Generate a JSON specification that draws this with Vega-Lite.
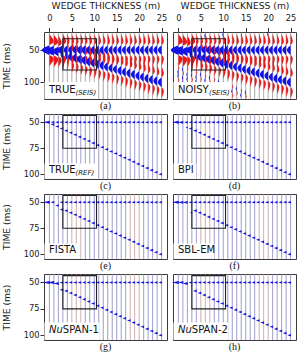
{
"$schema": "https://vega.github.io/schema/vega-lite/v6.json",
"padding": {"left": 1, "top": 1, "right": 2, "bottom": 1},
"background": "white",
"config": {
  "view": {"stroke": "#3a3a3a", "strokeWidth": 1},
  "axis": {"labelFont": "DejaVu Sans", "titleFont": "DejaVu Sans", "labelFontSize": 8.3, "titleFontSize": 9.2, "titleFontWeight": "normal", "labelColor": "#1a1a1a", "titleColor": "#1a1a1a", "tickColor": "#333333", "tickWidth": 1, "domain": false, "grid": false, "labelOverlap": false}
},
"datasets": {
  "traces": [
    {"trace":0,"tone":"b"},{"trace":1,"tone":"b"},{"trace":2,"tone":"b"},{"trace":3,"tone":"b"},{"trace":4,"tone":"b"},{"trace":5,"tone":"r"},{"trace":6,"tone":"r"},{"trace":7,"tone":"r"},{"trace":8,"tone":"b"},{"trace":9,"tone":"b"},{"trace":10,"tone":"b"},{"trace":11,"tone":"b"},{"trace":12,"tone":"b"},{"trace":13,"tone":"b"},{"trace":14,"tone":"b"},{"trace":15,"tone":"b"},{"trace":16,"tone":"b"},{"trace":17,"tone":"b"},{"trace":18,"tone":"r"},{"trace":19,"tone":"r"},{"trace":20,"tone":"r"},{"trace":21,"tone":"b"},{"trace":22,"tone":"b"},{"trace":23,"tone":"b"},{"trace":24,"tone":"b"},{"trace":25,"tone":"b"}
  ],
  "events": [
    {"trace":0,"t":50,"amp":2},{"trace":1,"t":51,"amp":2},{"trace":2,"t":52,"amp":1.5},
    {"trace":3,"t":50,"amp":1.5},{"trace":3,"t":57,"amp":0.6},
    {"trace":4,"t":50,"amp":1},{"trace":4,"t":58,"amp":0.6},
    {"trace":5,"t":50,"amp":1},{"trace":5,"t":60,"amp":1},
    {"trace":6,"t":50,"amp":1},{"trace":6,"t":62,"amp":1},
    {"trace":7,"t":50,"amp":1},{"trace":7,"t":64,"amp":1},
    {"trace":8,"t":50,"amp":1},{"trace":8,"t":66,"amp":1},
    {"trace":9,"t":50,"amp":1},{"trace":9,"t":68,"amp":1},
    {"trace":10,"t":50,"amp":1},{"trace":10,"t":70,"amp":1},
    {"trace":11,"t":50,"amp":1},{"trace":11,"t":72,"amp":1},
    {"trace":12,"t":50,"amp":1},{"trace":12,"t":74,"amp":1},
    {"trace":13,"t":50,"amp":1},{"trace":13,"t":76,"amp":1},
    {"trace":14,"t":50,"amp":1},{"trace":14,"t":78,"amp":1},
    {"trace":15,"t":50,"amp":1},{"trace":15,"t":80,"amp":1},
    {"trace":16,"t":50,"amp":1},{"trace":16,"t":82,"amp":1},
    {"trace":17,"t":50,"amp":1},{"trace":17,"t":84,"amp":1},
    {"trace":18,"t":50,"amp":1},{"trace":18,"t":86,"amp":1},
    {"trace":19,"t":50,"amp":1},{"trace":19,"t":88,"amp":1},
    {"trace":20,"t":50,"amp":1},{"trace":20,"t":90,"amp":1},
    {"trace":21,"t":50,"amp":1},{"trace":21,"t":92,"amp":1},
    {"trace":22,"t":50,"amp":1},{"trace":22,"t":94,"amp":1},
    {"trace":23,"t":50,"amp":1},{"trace":23,"t":96,"amp":1},
    {"trace":24,"t":50,"amp":1},{"trace":24,"t":98,"amp":1},
    {"trace":25,"t":50,"amp":1},{"trace":25,"t":100,"amp":1}
  ],
  "noise": [
    {"trace":0,"t":78,"s":"p"},{"trace":0,"t":84,"s":"n"},{"trace":0,"t":90,"s":"n"},{"trace":0,"t":97,"s":"p"},{"trace":0,"t":104,"s":"n"},{"trace":0,"t":110,"s":"n"},{"trace":0,"t":117,"s":"p"},
    {"trace":1,"t":80,"s":"n"},{"trace":1,"t":86,"s":"p"},{"trace":1,"t":93,"s":"n"},{"trace":1,"t":100,"s":"n"},{"trace":1,"t":106,"s":"p"},{"trace":1,"t":113,"s":"n"},{"trace":1,"t":120,"s":"n"},
    {"trace":2,"t":79,"s":"p"},{"trace":2,"t":88,"s":"n"},{"trace":2,"t":95,"s":"n"},{"trace":2,"t":101,"s":"p"},{"trace":2,"t":108,"s":"n"},{"trace":2,"t":115,"s":"n"},
    {"trace":3,"t":82,"s":"n"},{"trace":3,"t":89,"s":"n"},{"trace":3,"t":96,"s":"p"},{"trace":3,"t":103,"s":"n"},{"trace":3,"t":110,"s":"n"},{"trace":3,"t":118,"s":"p"},
    {"trace":4,"t":85,"s":"p"},{"trace":4,"t":92,"s":"n"},{"trace":4,"t":99,"s":"n"},{"trace":4,"t":105,"s":"n"},{"trace":4,"t":112,"s":"p"},{"trace":4,"t":119,"s":"n"},
    {"trace":5,"t":88,"s":"n"},{"trace":5,"t":95,"s":"p"},{"trace":5,"t":102,"s":"n"},{"trace":5,"t":109,"s":"n"},{"trace":5,"t":116,"s":"p"},
    {"trace":6,"t":90,"s":"p"},{"trace":6,"t":97,"s":"n"},{"trace":6,"t":104,"s":"n"},{"trace":6,"t":111,"s":"p"},{"trace":6,"t":118,"s":"n"},{"trace":6,"t":28,"s":"n"},
    {"trace":7,"t":93,"s":"n"},{"trace":7,"t":100,"s":"p"},{"trace":7,"t":107,"s":"n"},{"trace":7,"t":114,"s":"n"},{"trace":7,"t":121,"s":"p"},
    {"trace":8,"t":96,"s":"p"},{"trace":8,"t":103,"s":"n"},{"trace":8,"t":110,"s":"p"},{"trace":8,"t":117,"s":"n"},
    {"trace":9,"t":99,"s":"n"},{"trace":9,"t":106,"s":"p"},{"trace":9,"t":113,"s":"n"},{"trace":9,"t":120,"s":"p"},
    {"trace":10,"t":102,"s":"p"},{"trace":10,"t":109,"s":"n"},{"trace":10,"t":116,"s":"p"},{"trace":10,"t":26,"s":"n"},
    {"trace":11,"t":104,"s":"n"},{"trace":11,"t":111,"s":"p"},{"trace":11,"t":118,"s":"n"},
    {"trace":12,"t":107,"s":"p"},{"trace":12,"t":114,"s":"n"},{"trace":12,"t":121,"s":"p"},
    {"trace":13,"t":110,"s":"n"},{"trace":13,"t":117,"s":"p"},
    {"trace":14,"t":113,"s":"p"},{"trace":14,"t":120,"s":"n"},{"trace":14,"t":27,"s":"p"},
    {"trace":15,"t":116,"s":"n"},{"trace":15,"t":122,"s":"p"},
    {"trace":20,"t":25,"s":"n"}
  ],
  "far": [
    {"trace":5,"t":50,"a":1},{"trace":5,"t":60,"a":1},{"trace":6,"t":50,"a":1},{"trace":6,"t":62,"a":1},{"trace":7,"t":50,"a":1},{"trace":7,"t":64,"a":1},{"trace":8,"t":50,"a":1},{"trace":8,"t":66,"a":1},{"trace":9,"t":50,"a":1},{"trace":9,"t":68,"a":1},{"trace":10,"t":50,"a":1},{"trace":10,"t":70,"a":1},{"trace":11,"t":50,"a":1},{"trace":11,"t":72,"a":1},{"trace":12,"t":50,"a":1},{"trace":12,"t":74,"a":1},{"trace":13,"t":50,"a":1},{"trace":13,"t":76,"a":1},{"trace":14,"t":50,"a":1},{"trace":14,"t":78,"a":1},{"trace":15,"t":50,"a":1},{"trace":15,"t":80,"a":1},{"trace":16,"t":50,"a":1},{"trace":16,"t":82,"a":1},{"trace":17,"t":50,"a":1},{"trace":17,"t":84,"a":1},{"trace":18,"t":50,"a":1},{"trace":18,"t":86,"a":1},{"trace":19,"t":50,"a":1},{"trace":19,"t":88,"a":1},{"trace":20,"t":50,"a":1},{"trace":20,"t":90,"a":1},{"trace":21,"t":50,"a":1},{"trace":21,"t":92,"a":1},{"trace":22,"t":50,"a":1},{"trace":22,"t":94,"a":1},{"trace":23,"t":50,"a":1},{"trace":23,"t":96,"a":1},{"trace":24,"t":50,"a":1},{"trace":24,"t":98,"a":1},{"trace":25,"t":50,"a":1},{"trace":25,"t":100,"a":1}
  ],
  "near": [
    {"p":"c","trace":0,"t":50,"a":2},{"p":"c","trace":1,"t":50,"a":1},{"p":"c","trace":1,"t":52,"a":1},{"p":"c","trace":2,"t":50,"a":1},{"p":"c","trace":2,"t":54,"a":1},{"p":"c","trace":3,"t":50,"a":1},{"p":"c","trace":3,"t":56,"a":1},{"p":"c","trace":4,"t":50,"a":1},{"p":"c","trace":4,"t":58,"a":1},
    {"p":"d","trace":0,"t":50,"a":2},{"p":"d","trace":1,"t":50,"a":1.5},{"p":"d","trace":2,"t":50,"a":1},{"p":"d","trace":2,"t":55,"a":0.5},{"p":"d","trace":3,"t":50,"a":1},{"p":"d","trace":3,"t":56,"a":1},{"p":"d","trace":4,"t":50,"a":1},{"p":"d","trace":4,"t":58,"a":1},
    {"p":"e","trace":0,"t":50,"a":2},{"p":"e","trace":1,"t":50,"a":1},{"p":"e","trace":2,"t":53,"a":1},{"p":"e","trace":3,"t":50,"a":1},{"p":"e","trace":3,"t":57,"a":1},{"p":"e","trace":4,"t":50,"a":1},{"p":"e","trace":4,"t":58,"a":1},
    {"p":"f","trace":0,"t":50,"a":2},{"p":"f","trace":1,"t":50,"a":1.5},{"p":"f","trace":2,"t":50,"a":1.5},{"p":"f","trace":3,"t":50,"a":1},{"p":"f","trace":3,"t":60,"a":0.5},{"p":"f","trace":4,"t":50,"a":1},{"p":"f","trace":4,"t":58,"a":1},
    {"p":"g","trace":0,"t":50,"a":2},{"p":"g","trace":1,"t":50,"a":2},{"p":"g","trace":2,"t":51,"a":1.5},{"p":"g","trace":3,"t":50,"a":1},{"p":"g","trace":3,"t":57,"a":1},{"p":"g","trace":4,"t":50,"a":1},{"p":"g","trace":4,"t":58,"a":1},
    {"p":"h","trace":0,"t":50,"a":2},{"p":"h","trace":1,"t":50,"a":1.5},{"p":"h","trace":2,"t":51,"a":1.5},{"p":"h","trace":3,"t":50,"a":1},{"p":"h","trace":4,"t":50,"a":1},{"p":"h","trace":4,"t":58,"a":1}
  ]
},
"columns": 2,
"spacing": {"row": 15, "column": 6},
"bounds": "flush",
"align": "each",
"concat": [
 {
  "width": 123, "height": 67,
  "title": {"text": "(a)", "orient": "bottom", "offset": 2, "font": "Liberation Serif", "fontSize": 10, "fontWeight": "normal", "color": "#111", "frame": "group"},
  "resolve": {"scale": {"shape": "independent", "color": "independent"}},
  "layer": [
   {"data": {"name": "traces"}, "mark": {"type": "rule", "color": "#707070", "strokeWidth": 0.6},
    "encoding": {
     "x": {"field": "trace", "type": "quantitative", "scale": {"domain": [-1.2, 26.2], "nice": false, "zero": false}, "axis": {"orient": "top", "values": [0,5,10,15,20,25], "title": "WEDGE THICKNESS (m)", "tickSize": 4.5, "labelPadding": 5, "titlePadding": 3, "labelFlush": false}},
     "y": {"datum": 22, "type": "quantitative", "scale": {"domain": [22, 126], "reverse": true, "nice": false, "zero": false}, "axis": {"values": [50,100], "title": "TIME (ms)", "tickSize": 4, "labelPadding": 1, "titlePadding": 12}},
     "y2": {"datum": 126}}},
   {"data": {"name": "events"}, "mark": {"type": "point", "filled": true, "size": 4, "color": "#eb1a1a", "strokeWidth": 0, "opacity": 1},
    "encoding": {"x": {"field": "trace", "type": "quantitative", "axis": {"orient": "top", "values": [0,5,10,15,20,25], "title": "WEDGE THICKNESS (m)", "tickSize": 4.5, "labelPadding": 5, "titlePadding": 3, "labelFlush": false}}, "y": {"field": "t", "type": "quantitative", "axis": {"values": [50,100], "title": "TIME (ms)", "tickSize": 4, "labelPadding": 1, "titlePadding": 12}},
     "shape": {"field": "amp", "type": "ordinal", "legend": null, "scale": {"domain": [2,1.5,1,0.6], "range": [
       "M0,4.9C1.8,5.8 4.4,7 4.4,8.7C4.4,10.8 1.8,13.5 0,16ZM0,-4.9C1.8,-5.8 4.4,-7 4.4,-8.7C4.4,-10.8 1.8,-13.5 0,-16Z",
       "M0,4.9C1.3,5.8 3.3,7 3.3,8.7C3.3,10.8 1.3,13.5 0,16ZM0,-4.9C1.3,-5.8 3.3,-7 3.3,-8.7C3.3,-10.8 1.3,-13.5 0,-16Z",
       "M0,4.9C0.9,5.8 2.2,7 2.2,8.7C2.2,10.8 0.9,13.5 0,16ZM0,-4.9C0.9,-5.8 2.2,-7 2.2,-8.7C2.2,-10.8 0.9,-13.5 0,-16Z",
       "M0,4.9C0.5,5.8 1.3,7 1.3,8.7C1.3,10.8 0.5,13.5 0,16ZM0,-4.9C0.5,-5.8 1.3,-7 1.3,-8.7C1.3,-10.8 0.5,-13.5 0,-16Z"]}}}},
   {"data": {"name": "events"}, "mark": {"type": "point", "filled": true, "size": 4, "color": "#1414e6", "strokeWidth": 0, "opacity": 1},
    "encoding": {"x": {"field": "trace", "type": "quantitative", "axis": {"orient": "top", "values": [0,5,10,15,20,25], "title": "WEDGE THICKNESS (m)", "tickSize": 4.5, "labelPadding": 5, "titlePadding": 3, "labelFlush": false}}, "y": {"field": "t", "type": "quantitative", "axis": {"values": [50,100], "title": "TIME (ms)", "tickSize": 4, "labelPadding": 1, "titlePadding": 12}},
     "shape": {"field": "amp", "type": "ordinal", "legend": null, "scale": {"domain": [2,1.5,1,0.6], "range": [
       "M0,-4.9C-2.3,-3.6 -7.6,-2.2 -7.6,0C-7.6,2.2 -2.3,3.6 0,4.9Z",
       "M0,-4.9C-1.7,-3.6 -5.7,-2.2 -5.7,0C-5.7,2.2 -1.7,3.6 0,4.9Z",
       "M0,-4.9C-1.1,-3.6 -3.8,-2.2 -3.8,0C-3.8,2.2 -1.1,3.6 0,4.9Z",
       "M0,-4.9C-0.7,-3.6 -2.3,-2.2 -2.3,0C-2.3,2.2 -0.7,3.6 0,4.9Z"]}}}},
   {"data": {"values": [{}]}, "mark": {"type": "rect", "filled": false, "color": "#222", "strokeWidth": 1.1},
    "encoding": {"x": {"datum": 3, "type": "quantitative", "axis": {"orient": "top", "values": [0,5,10,15,20,25], "title": "WEDGE THICKNESS (m)", "tickSize": 4.5, "labelPadding": 5, "titlePadding": 3, "labelFlush": false}}, "x2": {"datum": 10.5}, "y": {"datum": 32.5, "type": "quantitative", "axis": {"values": [50,100], "title": "TIME (ms)", "tickSize": 4, "labelPadding": 1, "titlePadding": 12}}, "y2": {"datum": 81}}},
   {"data": {"values": [{}]}, "mark": {"type": "rect", "color": "white"},
    "encoding": {"x": {"datum": -1.1, "type": "quantitative", "axis": {"orient": "top", "values": [0,5,10,15,20,25], "title": "WEDGE THICKNESS (m)", "tickSize": 4.5, "labelPadding": 5, "titlePadding": 3, "labelFlush": false}}, "x2": {"datum": 10.7}, "y": {"datum": 99.6, "type": "quantitative", "axis": {"values": [50,100], "title": "TIME (ms)", "tickSize": 4, "labelPadding": 1, "titlePadding": 12}}, "y2": {"datum": 125.6}}},
   {"data": {"values": [{}]}, "mark": {"type": "text", "text": "TRUE", "align": "left", "baseline": "alphabetic", "font": "DejaVu Sans", "fontSize": 10, "color": "#111"},
    "encoding": {"x": {"datum": -0.1, "type": "quantitative", "axis": {"orient": "top", "values": [0,5,10,15,20,25], "title": "WEDGE THICKNESS (m)", "tickSize": 4.5, "labelPadding": 5, "titlePadding": 3, "labelFlush": false}}, "y": {"datum": 116.7, "type": "quantitative", "axis": {"values": [50,100], "title": "TIME (ms)", "tickSize": 4, "labelPadding": 1, "titlePadding": 12}}}},
   {"data": {"values": [{}]}, "mark": {"type": "text", "text": "(SEIS)", "align": "left", "baseline": "alphabetic", "font": "DejaVu Sans", "fontSize": 7, "fontStyle": "italic", "color": "#111"},
    "encoding": {"x": {"datum": 5.8, "type": "quantitative", "axis": {"orient": "top", "values": [0,5,10,15,20,25], "title": "WEDGE THICKNESS (m)", "tickSize": 4.5, "labelPadding": 5, "titlePadding": 3, "labelFlush": false}}, "y": {"datum": 119.5, "type": "quantitative", "axis": {"values": [50,100], "title": "TIME (ms)", "tickSize": 4, "labelPadding": 1, "titlePadding": 12}}}}
  ]
 },
 {
  "width": 123, "height": 67,
  "title": {"text": "(b)", "orient": "bottom", "offset": 2, "font": "Liberation Serif", "fontSize": 10, "fontWeight": "normal", "color": "#111", "frame": "group"},
  "resolve": {"scale": {"shape": "independent", "color": "independent"}},
  "layer": [
   {"data": {"name": "traces"}, "mark": {"type": "rule", "color": "#707070", "strokeWidth": 0.6},
    "encoding": {
     "x": {"field": "trace", "type": "quantitative", "scale": {"domain": [-1.2, 26.2], "nice": false, "zero": false}, "axis": {"orient": "top", "values": [0,5,10,15,20,25], "title": "WEDGE THICKNESS (m)", "tickSize": 4.5, "labelPadding": 5, "titlePadding": 3, "labelFlush": false}},
     "y": {"datum": 22, "type": "quantitative", "scale": {"domain": [22, 126], "reverse": true, "nice": false, "zero": false}, "axis": null},
     "y2": {"datum": 126}}},
   {"data": {"name": "noise"}, "mark": {"type": "point", "filled": true, "size": 4, "strokeWidth": 0, "opacity": 1},
    "encoding": {"x": {"field": "trace", "type": "quantitative", "axis": {"orient": "top", "values": [0,5,10,15,20,25], "title": "WEDGE THICKNESS (m)", "tickSize": 4.5, "labelPadding": 5, "titlePadding": 3, "labelFlush": false}}, "y": {"field": "t", "type": "quantitative", "axis": null},
     "shape": {"field": "s", "type": "nominal", "legend": null, "scale": {"domain": ["n","p"], "range": ["M0,-3C-0.4,-1.5 -1,-0.6 -1,0C-1,0.6 -0.4,1.5 0,3Z", "M0,-3C0.4,-1.5 1,-0.6 1,0C1,0.6 0.4,1.5 0,3Z"]}},
     "color": {"field": "s", "type": "nominal", "legend": null, "scale": {"domain": ["n","p"], "range": ["#1414e6","#eb1a1a"]}}}},
   {"data": {"name": "events"}, "mark": {"type": "point", "filled": true, "size": 4, "color": "#eb1a1a", "strokeWidth": 0, "opacity": 1},
    "encoding": {"x": {"field": "trace", "type": "quantitative", "axis": {"orient": "top", "values": [0,5,10,15,20,25], "title": "WEDGE THICKNESS (m)", "tickSize": 4.5, "labelPadding": 5, "titlePadding": 3, "labelFlush": false}}, "y": {"field": "t", "type": "quantitative", "axis": null},
     "shape": {"field": "amp", "type": "ordinal", "legend": null, "scale": {"domain": [2,1.5,1,0.6], "range": [
       "M0,4.9C1.8,5.8 4.4,7 4.4,8.7C4.4,10.8 1.8,13.5 0,16ZM0,-4.9C1.8,-5.8 4.4,-7 4.4,-8.7C4.4,-10.8 1.8,-13.5 0,-16Z",
       "M0,4.9C1.3,5.8 3.3,7 3.3,8.7C3.3,10.8 1.3,13.5 0,16ZM0,-4.9C1.3,-5.8 3.3,-7 3.3,-8.7C3.3,-10.8 1.3,-13.5 0,-16Z",
       "M0,4.9C0.9,5.8 2.2,7 2.2,8.7C2.2,10.8 0.9,13.5 0,16ZM0,-4.9C0.9,-5.8 2.2,-7 2.2,-8.7C2.2,-10.8 0.9,-13.5 0,-16Z",
       "M0,4.9C0.5,5.8 1.3,7 1.3,8.7C1.3,10.8 0.5,13.5 0,16ZM0,-4.9C0.5,-5.8 1.3,-7 1.3,-8.7C1.3,-10.8 0.5,-13.5 0,-16Z"]}}}},
   {"data": {"name": "events"}, "mark": {"type": "point", "filled": true, "size": 4, "color": "#1414e6", "strokeWidth": 0, "opacity": 1},
    "encoding": {"x": {"field": "trace", "type": "quantitative", "axis": {"orient": "top", "values": [0,5,10,15,20,25], "title": "WEDGE THICKNESS (m)", "tickSize": 4.5, "labelPadding": 5, "titlePadding": 3, "labelFlush": false}}, "y": {"field": "t", "type": "quantitative", "axis": null},
     "shape": {"field": "amp", "type": "ordinal", "legend": null, "scale": {"domain": [2,1.5,1,0.6], "range": [
       "M0,-4.9C-2.3,-3.6 -7.6,-2.2 -7.6,0C-7.6,2.2 -2.3,3.6 0,4.9Z",
       "M0,-4.9C-1.7,-3.6 -5.7,-2.2 -5.7,0C-5.7,2.2 -1.7,3.6 0,4.9Z",
       "M0,-4.9C-1.1,-3.6 -3.8,-2.2 -3.8,0C-3.8,2.2 -1.1,3.6 0,4.9Z",
       "M0,-4.9C-0.7,-3.6 -2.3,-2.2 -2.3,0C-2.3,2.2 -0.7,3.6 0,4.9Z"]}}}},
   {"data": {"values": [{}]}, "mark": {"type": "rect", "filled": false, "color": "#222", "strokeWidth": 1.1},
    "encoding": {"x": {"datum": 3, "type": "quantitative", "axis": {"orient": "top", "values": [0,5,10,15,20,25], "title": "WEDGE THICKNESS (m)", "tickSize": 4.5, "labelPadding": 5, "titlePadding": 3, "labelFlush": false}}, "x2": {"datum": 10.5}, "y": {"datum": 32.5, "type": "quantitative", "axis": null}, "y2": {"datum": 81}}},
   {"data": {"values": [{}]}, "mark": {"type": "rect", "color": "white"},
    "encoding": {"x": {"datum": -1.1, "type": "quantitative", "axis": {"orient": "top", "values": [0,5,10,15,20,25], "title": "WEDGE THICKNESS (m)", "tickSize": 4.5, "labelPadding": 5, "titlePadding": 3, "labelFlush": false}}, "x2": {"datum": 11.3}, "y": {"datum": 99.6, "type": "quantitative", "axis": null}, "y2": {"datum": 125.6}}},
   {"data": {"values": [{}]}, "mark": {"type": "text", "text": "NOISY", "align": "left", "baseline": "alphabetic", "font": "DejaVu Sans", "fontSize": 10, "color": "#111"},
    "encoding": {"x": {"datum": -0.1, "type": "quantitative", "axis": {"orient": "top", "values": [0,5,10,15,20,25], "title": "WEDGE THICKNESS (m)", "tickSize": 4.5, "labelPadding": 5, "titlePadding": 3, "labelFlush": false}}, "y": {"datum": 116.7, "type": "quantitative", "axis": null}}},
   {"data": {"values": [{}]}, "mark": {"type": "text", "text": "(SEIS)", "align": "left", "baseline": "alphabetic", "font": "DejaVu Sans", "fontSize": 7, "fontStyle": "italic", "color": "#111"},
    "encoding": {"x": {"datum": 6.8, "type": "quantitative", "axis": {"orient": "top", "values": [0,5,10,15,20,25], "title": "WEDGE THICKNESS (m)", "tickSize": 4.5, "labelPadding": 5, "titlePadding": 3, "labelFlush": false}}, "y": {"datum": 119.5, "type": "quantitative", "axis": null}}}
  ]
 },
 {
  "width": 123, "height": 65,
  "title": {"text": "(c)", "orient": "bottom", "offset": 2, "font": "Liberation Serif", "fontSize": 10, "fontWeight": "normal", "color": "#111", "frame": "group"},
  "layer": [
   {"data": {"name": "traces"}, "mark": {"type": "rule", "color": "#8585c2", "strokeWidth": 0.8},
    "encoding": {
     "x": {"field": "trace", "type": "quantitative", "scale": {"domain": [-1.2, 26.2], "nice": false, "zero": false}, "axis": null},
     "y": {"datum": 42, "type": "quantitative", "scale": {"domain": [42, 104.5], "reverse": true, "nice": false, "zero": false}, "axis": {"values": [50,75,100], "title": "TIME (ms)", "tickSize": 4, "labelPadding": 1, "titlePadding": 12}},
     "y2": {"datum": 104.5}}},
   {"data": {"name": "far"}, "mark": {"type": "point", "filled": true, "size": 4, "color": "#1414e0", "strokeWidth": 0, "opacity": 1},
    "encoding": {"x": {"field": "trace", "type": "quantitative", "axis": null}, "y": {"field": "t", "type": "quantitative", "axis": {"values": [50,75,100], "title": "TIME (ms)", "tickSize": 4, "labelPadding": 1, "titlePadding": 12}},
     "shape": {"field": "a", "type": "ordinal", "legend": null, "scale": {"domain": [2,1.5,1,0.5], "range": ["M0.4,-1.5L-6.5,0L0.4,1.5Z","M0.4,-1.4L-4.8,0L0.4,1.4Z","M0.4,-1.3L-3.2,0L0.4,1.3Z","M0.4,-1.1L-1.8,0L0.4,1.1Z"]}}}},
   {"data": {"name": "near"}, "transform": [{"filter": "datum.p === 'c'"}], "mark": {"type": "point", "filled": true, "size": 4, "color": "#1414e0", "strokeWidth": 0, "opacity": 1},
    "encoding": {"x": {"field": "trace", "type": "quantitative", "axis": null}, "y": {"field": "t", "type": "quantitative", "axis": {"values": [50,75,100], "title": "TIME (ms)", "tickSize": 4, "labelPadding": 1, "titlePadding": 12}},
     "shape": {"field": "a", "type": "ordinal", "legend": null, "scale": {"domain": [2,1.5,1,0.5], "range": ["M0.4,-1.5L-6.5,0L0.4,1.5Z","M0.4,-1.4L-4.8,0L0.4,1.4Z","M0.4,-1.3L-3.2,0L0.4,1.3Z","M0.4,-1.1L-1.8,0L0.4,1.1Z"]}}}},
   {"data": {"values": [{}]}, "mark": {"type": "rect", "filled": false, "color": "#222", "strokeWidth": 1.1},
    "encoding": {"x": {"datum": 3, "type": "quantitative", "axis": null}, "x2": {"datum": 10.5}, "y": {"datum": 43.5, "type": "quantitative", "axis": {"values": [50,75,100], "title": "TIME (ms)", "tickSize": 4, "labelPadding": 1, "titlePadding": 12}}, "y2": {"datum": 75}}},
   {"data": {"values": [{}]}, "mark": {"type": "rect", "color": "white"},
    "encoding": {"x": {"datum": -1.1, "type": "quantitative", "axis": null}, "x2": {"datum": 10.7}, "y": {"datum": 89.6, "type": "quantitative", "axis": {"values": [50,75,100], "title": "TIME (ms)", "tickSize": 4, "labelPadding": 1, "titlePadding": 12}}, "y2": {"datum": 104.3}}},
   {"data": {"values": [{}]}, "mark": {"type": "text", "text": "TRUE", "align": "left", "baseline": "alphabetic", "font": "DejaVu Sans", "fontSize": 10, "color": "#111"},
    "encoding": {"x": {"datum": -0.1, "type": "quantitative", "axis": null}, "y": {"datum": 99.2, "type": "quantitative", "axis": {"values": [50,75,100], "title": "TIME (ms)", "tickSize": 4, "labelPadding": 1, "titlePadding": 12}}}},
   {"data": {"values": [{}]}, "mark": {"type": "text", "text": "(REF)", "align": "left", "baseline": "alphabetic", "font": "DejaVu Sans", "fontSize": 7, "fontStyle": "italic", "color": "#111"},
    "encoding": {"x": {"datum": 5.8, "type": "quantitative", "axis": null}, "y": {"datum": 100.8, "type": "quantitative", "axis": {"values": [50,75,100], "title": "TIME (ms)", "tickSize": 4, "labelPadding": 1, "titlePadding": 12}}}}
  ]
 },
 {
  "width": 123, "height": 65,
  "title": {"text": "(d)", "orient": "bottom", "offset": 2, "font": "Liberation Serif", "fontSize": 10, "fontWeight": "normal", "color": "#111", "frame": "group"},
  "resolve": {"scale": {"color": "independent"}},
  "layer": [
   {"data": {"name": "traces"}, "mark": {"type": "rule", "strokeWidth": 0.8},
    "encoding": {
     "x": {"field": "trace", "type": "quantitative", "scale": {"domain": [-1.2, 26.2], "nice": false, "zero": false}, "axis": null},
     "y": {"datum": 42, "type": "quantitative", "scale": {"domain": [42, 104.5], "reverse": true, "nice": false, "zero": false}, "axis": null},
     "y2": {"datum": 104.5},
     "color": {"field": "tone", "type": "nominal", "legend": null, "scale": {"domain": ["b","r"], "range": ["#8585c2","#c29a9a"]}}}},
   {"data": {"name": "far"}, "mark": {"type": "point", "filled": true, "size": 4, "color": "#1414e0", "strokeWidth": 0, "opacity": 1},
    "encoding": {"x": {"field": "trace", "type": "quantitative", "axis": null}, "y": {"field": "t", "type": "quantitative", "axis": null},
     "shape": {"field": "a", "type": "ordinal", "legend": null, "scale": {"domain": [2,1.5,1,0.5], "range": ["M0.4,-1.5L-6.5,0L0.4,1.5Z","M0.4,-1.4L-4.8,0L0.4,1.4Z","M0.4,-1.3L-3.2,0L0.4,1.3Z","M0.4,-1.1L-1.8,0L0.4,1.1Z"]}}}},
   {"data": {"name": "near"}, "transform": [{"filter": "datum.p === 'd'"}], "mark": {"type": "point", "filled": true, "size": 4, "color": "#1414e0", "strokeWidth": 0, "opacity": 1},
    "encoding": {"x": {"field": "trace", "type": "quantitative", "axis": null}, "y": {"field": "t", "type": "quantitative", "axis": null},
     "shape": {"field": "a", "type": "ordinal", "legend": null, "scale": {"domain": [2,1.5,1,0.5], "range": ["M0.4,-1.5L-6.5,0L0.4,1.5Z","M0.4,-1.4L-4.8,0L0.4,1.4Z","M0.4,-1.3L-3.2,0L0.4,1.3Z","M0.4,-1.1L-1.8,0L0.4,1.1Z"]}}}},
   {"data": {"values": [{}]}, "mark": {"type": "rect", "filled": false, "color": "#222", "strokeWidth": 1.1},
    "encoding": {"x": {"datum": 3, "type": "quantitative", "axis": null}, "x2": {"datum": 10.5}, "y": {"datum": 43.5, "type": "quantitative", "axis": null}, "y2": {"datum": 75}}},
   {"data": {"values": [{}]}, "mark": {"type": "rect", "color": "white"},
    "encoding": {"x": {"datum": -1.1, "type": "quantitative", "axis": null}, "x2": {"datum": 4}, "y": {"datum": 89.6, "type": "quantitative", "axis": null}, "y2": {"datum": 104.3}}},
   {"data": {"values": [{}]}, "mark": {"type": "text", "text": "BPI", "align": "left", "baseline": "alphabetic", "font": "DejaVu Sans", "fontSize": 10, "color": "#111"},
    "encoding": {"x": {"datum": -0.1, "type": "quantitative", "axis": null}, "y": {"datum": 99.2, "type": "quantitative", "axis": null}}}
  ]
 },
 {
  "width": 123, "height": 65,
  "title": {"text": "(e)", "orient": "bottom", "offset": 2, "font": "Liberation Serif", "fontSize": 10, "fontWeight": "normal", "color": "#111", "frame": "group"},
  "resolve": {"scale": {"color": "independent"}},
  "layer": [
   {"data": {"name": "traces"}, "mark": {"type": "rule", "strokeWidth": 0.8},
    "encoding": {
     "x": {"field": "trace", "type": "quantitative", "scale": {"domain": [-1.2, 26.2], "nice": false, "zero": false}, "axis": null},
     "y": {"datum": 42, "type": "quantitative", "scale": {"domain": [42, 104.5], "reverse": true, "nice": false, "zero": false}, "axis": {"values": [50,75,100], "title": "TIME (ms)", "tickSize": 4, "labelPadding": 1, "titlePadding": 12}},
     "y2": {"datum": 104.5},
     "color": {"field": "tone", "type": "nominal", "legend": null, "scale": {"domain": ["b","r"], "range": ["#8585c2","#c29a9a"]}}}},
   {"data": {"name": "far"}, "mark": {"type": "point", "filled": true, "size": 4, "color": "#1414e0", "strokeWidth": 0, "opacity": 1},
    "encoding": {"x": {"field": "trace", "type": "quantitative", "axis": null}, "y": {"field": "t", "type": "quantitative", "axis": {"values": [50,75,100], "title": "TIME (ms)", "tickSize": 4, "labelPadding": 1, "titlePadding": 12}},
     "shape": {"field": "a", "type": "ordinal", "legend": null, "scale": {"domain": [2,1.5,1,0.5], "range": ["M0.4,-1.5L-6.5,0L0.4,1.5Z","M0.4,-1.4L-4.8,0L0.4,1.4Z","M0.4,-1.3L-3.2,0L0.4,1.3Z","M0.4,-1.1L-1.8,0L0.4,1.1Z"]}}}},
   {"data": {"name": "near"}, "transform": [{"filter": "datum.p === 'e'"}], "mark": {"type": "point", "filled": true, "size": 4, "color": "#1414e0", "strokeWidth": 0, "opacity": 1},
    "encoding": {"x": {"field": "trace", "type": "quantitative", "axis": null}, "y": {"field": "t", "type": "quantitative", "axis": {"values": [50,75,100], "title": "TIME (ms)", "tickSize": 4, "labelPadding": 1, "titlePadding": 12}},
     "shape": {"field": "a", "type": "ordinal", "legend": null, "scale": {"domain": [2,1.5,1,0.5], "range": ["M0.4,-1.5L-6.5,0L0.4,1.5Z","M0.4,-1.4L-4.8,0L0.4,1.4Z","M0.4,-1.3L-3.2,0L0.4,1.3Z","M0.4,-1.1L-1.8,0L0.4,1.1Z"]}}}},
   {"data": {"values": [{}]}, "mark": {"type": "rect", "filled": false, "color": "#222", "strokeWidth": 1.1},
    "encoding": {"x": {"datum": 3, "type": "quantitative", "axis": null}, "x2": {"datum": 10.5}, "y": {"datum": 43.5, "type": "quantitative", "axis": {"values": [50,75,100], "title": "TIME (ms)", "tickSize": 4, "labelPadding": 1, "titlePadding": 12}}, "y2": {"datum": 75}}},
   {"data": {"values": [{}]}, "mark": {"type": "rect", "color": "white"},
    "encoding": {"x": {"datum": -1.1, "type": "quantitative", "axis": null}, "x2": {"datum": 6.4}, "y": {"datum": 89.6, "type": "quantitative", "axis": {"values": [50,75,100], "title": "TIME (ms)", "tickSize": 4, "labelPadding": 1, "titlePadding": 12}}, "y2": {"datum": 104.3}}},
   {"data": {"values": [{}]}, "mark": {"type": "text", "text": "FISTA", "align": "left", "baseline": "alphabetic", "font": "DejaVu Sans", "fontSize": 10, "color": "#111"},
    "encoding": {"x": {"datum": -0.1, "type": "quantitative", "axis": null}, "y": {"datum": 99.2, "type": "quantitative", "axis": {"values": [50,75,100], "title": "TIME (ms)", "tickSize": 4, "labelPadding": 1, "titlePadding": 12}}}}
  ]
 },
 {
  "width": 123, "height": 65,
  "title": {"text": "(f)", "orient": "bottom", "offset": 2, "font": "Liberation Serif", "fontSize": 10, "fontWeight": "normal", "color": "#111", "frame": "group"},
  "resolve": {"scale": {"color": "independent"}},
  "layer": [
   {"data": {"name": "traces"}, "mark": {"type": "rule", "strokeWidth": 0.8},
    "encoding": {
     "x": {"field": "trace", "type": "quantitative", "scale": {"domain": [-1.2, 26.2], "nice": false, "zero": false}, "axis": null},
     "y": {"datum": 42, "type": "quantitative", "scale": {"domain": [42, 104.5], "reverse": true, "nice": false, "zero": false}, "axis": null},
     "y2": {"datum": 104.5},
     "color": {"field": "tone", "type": "nominal", "legend": null, "scale": {"domain": ["b","r"], "range": ["#8585c2","#c29a9a"]}}}},
   {"data": {"name": "far"}, "mark": {"type": "point", "filled": true, "size": 4, "color": "#1414e0", "strokeWidth": 0, "opacity": 1},
    "encoding": {"x": {"field": "trace", "type": "quantitative", "axis": null}, "y": {"field": "t", "type": "quantitative", "axis": null},
     "shape": {"field": "a", "type": "ordinal", "legend": null, "scale": {"domain": [2,1.5,1,0.5], "range": ["M0.4,-1.5L-6.5,0L0.4,1.5Z","M0.4,-1.4L-4.8,0L0.4,1.4Z","M0.4,-1.3L-3.2,0L0.4,1.3Z","M0.4,-1.1L-1.8,0L0.4,1.1Z"]}}}},
   {"data": {"name": "near"}, "transform": [{"filter": "datum.p === 'f'"}], "mark": {"type": "point", "filled": true, "size": 4, "color": "#1414e0", "strokeWidth": 0, "opacity": 1},
    "encoding": {"x": {"field": "trace", "type": "quantitative", "axis": null}, "y": {"field": "t", "type": "quantitative", "axis": null},
     "shape": {"field": "a", "type": "ordinal", "legend": null, "scale": {"domain": [2,1.5,1,0.5], "range": ["M0.4,-1.5L-6.5,0L0.4,1.5Z","M0.4,-1.4L-4.8,0L0.4,1.4Z","M0.4,-1.3L-3.2,0L0.4,1.3Z","M0.4,-1.1L-1.8,0L0.4,1.1Z"]}}}},
   {"data": {"values": [{}]}, "mark": {"type": "rect", "filled": false, "color": "#222", "strokeWidth": 1.1},
    "encoding": {"x": {"datum": 3, "type": "quantitative", "axis": null}, "x2": {"datum": 10.5}, "y": {"datum": 43.5, "type": "quantitative", "axis": null}, "y2": {"datum": 75}}},
   {"data": {"values": [{}]}, "mark": {"type": "rect", "color": "white"},
    "encoding": {"x": {"datum": -1.1, "type": "quantitative", "axis": null}, "x2": {"datum": 8}, "y": {"datum": 89.6, "type": "quantitative", "axis": null}, "y2": {"datum": 104.3}}},
   {"data": {"values": [{}]}, "mark": {"type": "text", "text": "SBL-EM", "align": "left", "baseline": "alphabetic", "font": "DejaVu Sans", "fontSize": 10, "color": "#111"},
    "encoding": {"x": {"datum": -0.1, "type": "quantitative", "axis": null}, "y": {"datum": 99.2, "type": "quantitative", "axis": null}}}
  ]
 },
 {
  "width": 123, "height": 66,
  "title": {"text": "(g)", "orient": "bottom", "offset": 2, "font": "Liberation Serif", "fontSize": 10, "fontWeight": "normal", "color": "#111", "frame": "group"},
  "resolve": {"scale": {"color": "independent"}},
  "layer": [
   {"data": {"name": "traces"}, "mark": {"type": "rule", "strokeWidth": 0.8},
    "encoding": {
     "x": {"field": "trace", "type": "quantitative", "scale": {"domain": [-1.2, 26.2], "nice": false, "zero": false}, "axis": null},
     "y": {"datum": 42, "type": "quantitative", "scale": {"domain": [42, 104.5], "reverse": true, "nice": false, "zero": false}, "axis": {"values": [50,75,100], "title": "TIME (ms)", "tickSize": 4, "labelPadding": 1, "titlePadding": 12}},
     "y2": {"datum": 104.5},
     "color": {"field": "tone", "type": "nominal", "legend": null, "scale": {"domain": ["b","r"], "range": ["#8585c2","#c29a9a"]}}}},
   {"data": {"name": "far"}, "mark": {"type": "point", "filled": true, "size": 4, "color": "#1414e0", "strokeWidth": 0, "opacity": 1},
    "encoding": {"x": {"field": "trace", "type": "quantitative", "axis": null}, "y": {"field": "t", "type": "quantitative", "axis": {"values": [50,75,100], "title": "TIME (ms)", "tickSize": 4, "labelPadding": 1, "titlePadding": 12}},
     "shape": {"field": "a", "type": "ordinal", "legend": null, "scale": {"domain": [2,1.5,1,0.5], "range": ["M0.4,-1.5L-6.5,0L0.4,1.5Z","M0.4,-1.4L-4.8,0L0.4,1.4Z","M0.4,-1.3L-3.2,0L0.4,1.3Z","M0.4,-1.1L-1.8,0L0.4,1.1Z"]}}}},
   {"data": {"name": "near"}, "transform": [{"filter": "datum.p === 'g'"}], "mark": {"type": "point", "filled": true, "size": 4, "color": "#1414e0", "strokeWidth": 0, "opacity": 1},
    "encoding": {"x": {"field": "trace", "type": "quantitative", "axis": null}, "y": {"field": "t", "type": "quantitative", "axis": {"values": [50,75,100], "title": "TIME (ms)", "tickSize": 4, "labelPadding": 1, "titlePadding": 12}},
     "shape": {"field": "a", "type": "ordinal", "legend": null, "scale": {"domain": [2,1.5,1,0.5], "range": ["M0.4,-1.5L-6.5,0L0.4,1.5Z","M0.4,-1.4L-4.8,0L0.4,1.4Z","M0.4,-1.3L-3.2,0L0.4,1.3Z","M0.4,-1.1L-1.8,0L0.4,1.1Z"]}}}},
   {"data": {"values": [{}]}, "mark": {"type": "rect", "filled": false, "color": "#222", "strokeWidth": 1.1},
    "encoding": {"x": {"datum": 3, "type": "quantitative", "axis": null}, "x2": {"datum": 10.5}, "y": {"datum": 43.5, "type": "quantitative", "axis": {"values": [50,75,100], "title": "TIME (ms)", "tickSize": 4, "labelPadding": 1, "titlePadding": 12}}, "y2": {"datum": 75}}},
   {"data": {"values": [{}]}, "mark": {"type": "rect", "color": "white"},
    "encoding": {"x": {"datum": -1.1, "type": "quantitative", "axis": null}, "x2": {"datum": 11.1}, "y": {"datum": 88, "type": "quantitative", "axis": {"values": [50,75,100], "title": "TIME (ms)", "tickSize": 4, "labelPadding": 1, "titlePadding": 12}}, "y2": {"datum": 104.3}}},
   {"data": {"values": [{}]}, "mark": {"type": "text", "text": "Nu", "align": "left", "baseline": "alphabetic", "font": "DejaVu Sans", "fontSize": 10, "fontStyle": "italic", "color": "#111"},
    "encoding": {"x": {"datum": -0.1, "type": "quantitative", "axis": null}, "y": {"datum": 97.5, "type": "quantitative", "axis": {"values": [50,75,100], "title": "TIME (ms)", "tickSize": 4, "labelPadding": 1, "titlePadding": 12}}}},
   {"data": {"values": [{}]}, "mark": {"type": "text", "text": "SPAN-1", "align": "left", "baseline": "alphabetic", "font": "DejaVu Sans", "fontSize": 10, "color": "#111"},
    "encoding": {"x": {"datum": 3.0, "type": "quantitative", "axis": null}, "y": {"datum": 97.5, "type": "quantitative", "axis": {"values": [50,75,100], "title": "TIME (ms)", "tickSize": 4, "labelPadding": 1, "titlePadding": 12}}}}
  ]
 },
 {
  "width": 123, "height": 66,
  "title": {"text": "(h)", "orient": "bottom", "offset": 2, "font": "Liberation Serif", "fontSize": 10, "fontWeight": "normal", "color": "#111", "frame": "group"},
  "resolve": {"scale": {"color": "independent"}},
  "layer": [
   {"data": {"name": "traces"}, "mark": {"type": "rule", "strokeWidth": 0.8},
    "encoding": {
     "x": {"field": "trace", "type": "quantitative", "scale": {"domain": [-1.2, 26.2], "nice": false, "zero": false}, "axis": null},
     "y": {"datum": 42, "type": "quantitative", "scale": {"domain": [42, 104.5], "reverse": true, "nice": false, "zero": false}, "axis": null},
     "y2": {"datum": 104.5},
     "color": {"field": "tone", "type": "nominal", "legend": null, "scale": {"domain": ["b","r"], "range": ["#8585c2","#c29a9a"]}}}},
   {"data": {"name": "far"}, "mark": {"type": "point", "filled": true, "size": 4, "color": "#1414e0", "strokeWidth": 0, "opacity": 1},
    "encoding": {"x": {"field": "trace", "type": "quantitative", "axis": null}, "y": {"field": "t", "type": "quantitative", "axis": null},
     "shape": {"field": "a", "type": "ordinal", "legend": null, "scale": {"domain": [2,1.5,1,0.5], "range": ["M0.4,-1.5L-6.5,0L0.4,1.5Z","M0.4,-1.4L-4.8,0L0.4,1.4Z","M0.4,-1.3L-3.2,0L0.4,1.3Z","M0.4,-1.1L-1.8,0L0.4,1.1Z"]}}}},
   {"data": {"name": "near"}, "transform": [{"filter": "datum.p === 'h'"}], "mark": {"type": "point", "filled": true, "size": 4, "color": "#1414e0", "strokeWidth": 0, "opacity": 1},
    "encoding": {"x": {"field": "trace", "type": "quantitative", "axis": null}, "y": {"field": "t", "type": "quantitative", "axis": null},
     "shape": {"field": "a", "type": "ordinal", "legend": null, "scale": {"domain": [2,1.5,1,0.5], "range": ["M0.4,-1.5L-6.5,0L0.4,1.5Z","M0.4,-1.4L-4.8,0L0.4,1.4Z","M0.4,-1.3L-3.2,0L0.4,1.3Z","M0.4,-1.1L-1.8,0L0.4,1.1Z"]}}}},
   {"data": {"values": [{}]}, "mark": {"type": "rect", "filled": false, "color": "#222", "strokeWidth": 1.1},
    "encoding": {"x": {"datum": 3, "type": "quantitative", "axis": null}, "x2": {"datum": 10.5}, "y": {"datum": 43.5, "type": "quantitative", "axis": null}, "y2": {"datum": 75}}},
   {"data": {"values": [{}]}, "mark": {"type": "rect", "color": "white"},
    "encoding": {"x": {"datum": -1.1, "type": "quantitative", "axis": null}, "x2": {"datum": 11.1}, "y": {"datum": 88, "type": "quantitative", "axis": null}, "y2": {"datum": 104.3}}},
   {"data": {"values": [{}]}, "mark": {"type": "text", "text": "Nu", "align": "left", "baseline": "alphabetic", "font": "DejaVu Sans", "fontSize": 10, "fontStyle": "italic", "color": "#111"},
    "encoding": {"x": {"datum": -0.1, "type": "quantitative", "axis": null}, "y": {"datum": 97.5, "type": "quantitative", "axis": null}}},
   {"data": {"values": [{}]}, "mark": {"type": "text", "text": "SPAN-2", "align": "left", "baseline": "alphabetic", "font": "DejaVu Sans", "fontSize": 10, "color": "#111"},
    "encoding": {"x": {"datum": 3.0, "type": "quantitative", "axis": null}, "y": {"datum": 97.5, "type": "quantitative", "axis": null}}}
  ]
 }
]
}
